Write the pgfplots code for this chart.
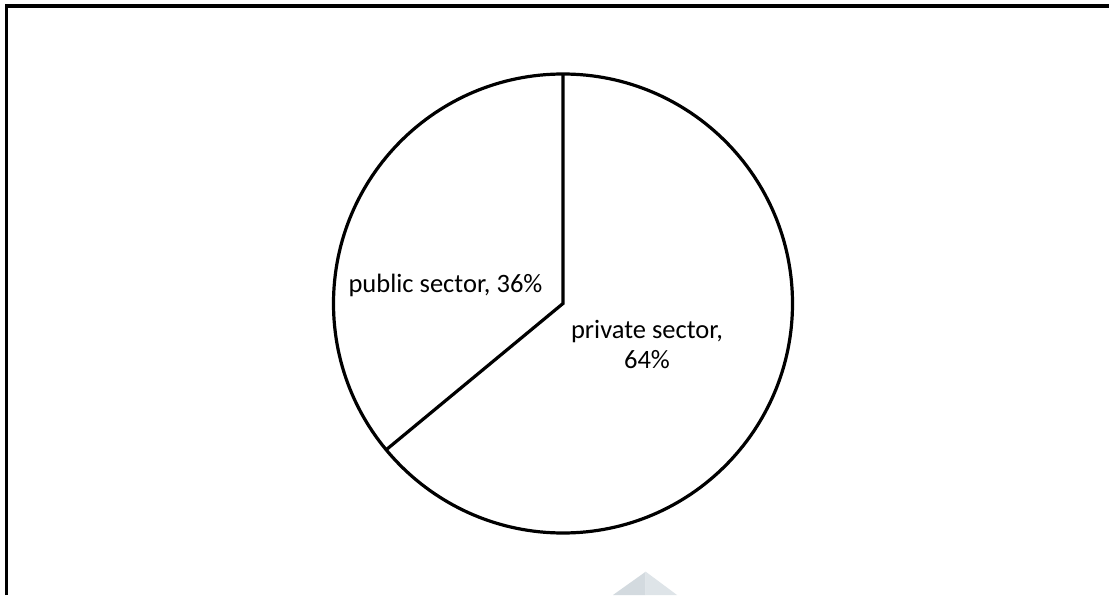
\documentclass[border=0pt]{standalone}
\usepackage{pgfplots}
\pgfplotsset{compat=1.18}
\usepackage{pgfplotstable}
\usepackage{fontspec}
\setmainfont{Carlito}
\pgfplotstableread{
label value
private 64
public 36
}\piedata
\definecolor{wmA}{HTML}{D3DADF}
\definecolor{wmB}{HTML}{DEE4E8}
\begin{document}
\begin{tikzpicture}[x=1pt,y=1pt]
\useasboundingbox (0,0) rectangle (1109,595);
\fill[white] (0,0) rectangle (1109,595);
% frame (top and left visible)
\draw[line width=3.2pt] (6.5,0) -- (6.5,589) -- (1109,589);
% faint watermark at bottom
\fill[wmA] (645.7,23.3) -- (613,0) -- (645.7,0) -- cycle;
\fill[wmB] (645.7,23.3) -- (677,0) -- (645.7,0) -- cycle;
\pgfplotstablegetelem{0}{value}\of\piedata
\let\vpriv\pgfplotsretval
\pgfmathsetmacro{\aend}{90-3.6*\vpriv}
\begin{axis}[at={(563pt,291.5pt)}, anchor=center, scale only axis,
  width=459pt, height=459pt, xmin=-1, xmax=1, ymin=-1, ymax=1,
  hide axis, clip=false]
\draw[line width=3.2pt, fill=white] (axis cs:0,0) circle[radius=229.5pt];
\draw[line width=3.2pt, line join=miter] (axis cs:0,1) -- (axis cs:0,0) -- (axis cs:{cos(\aend)},{sin(\aend)});
\end{axis}
\fontsize{26.5}{31}\selectfont
\node[anchor=base, inner sep=0pt] at (445.5,302) {public sector, 36\%};
\node[anchor=base, inner sep=0pt] at (647,256) {private sector,};
\node[anchor=base, inner sep=0pt] at (647,226) {64\%};
\end{tikzpicture}
\end{document}
